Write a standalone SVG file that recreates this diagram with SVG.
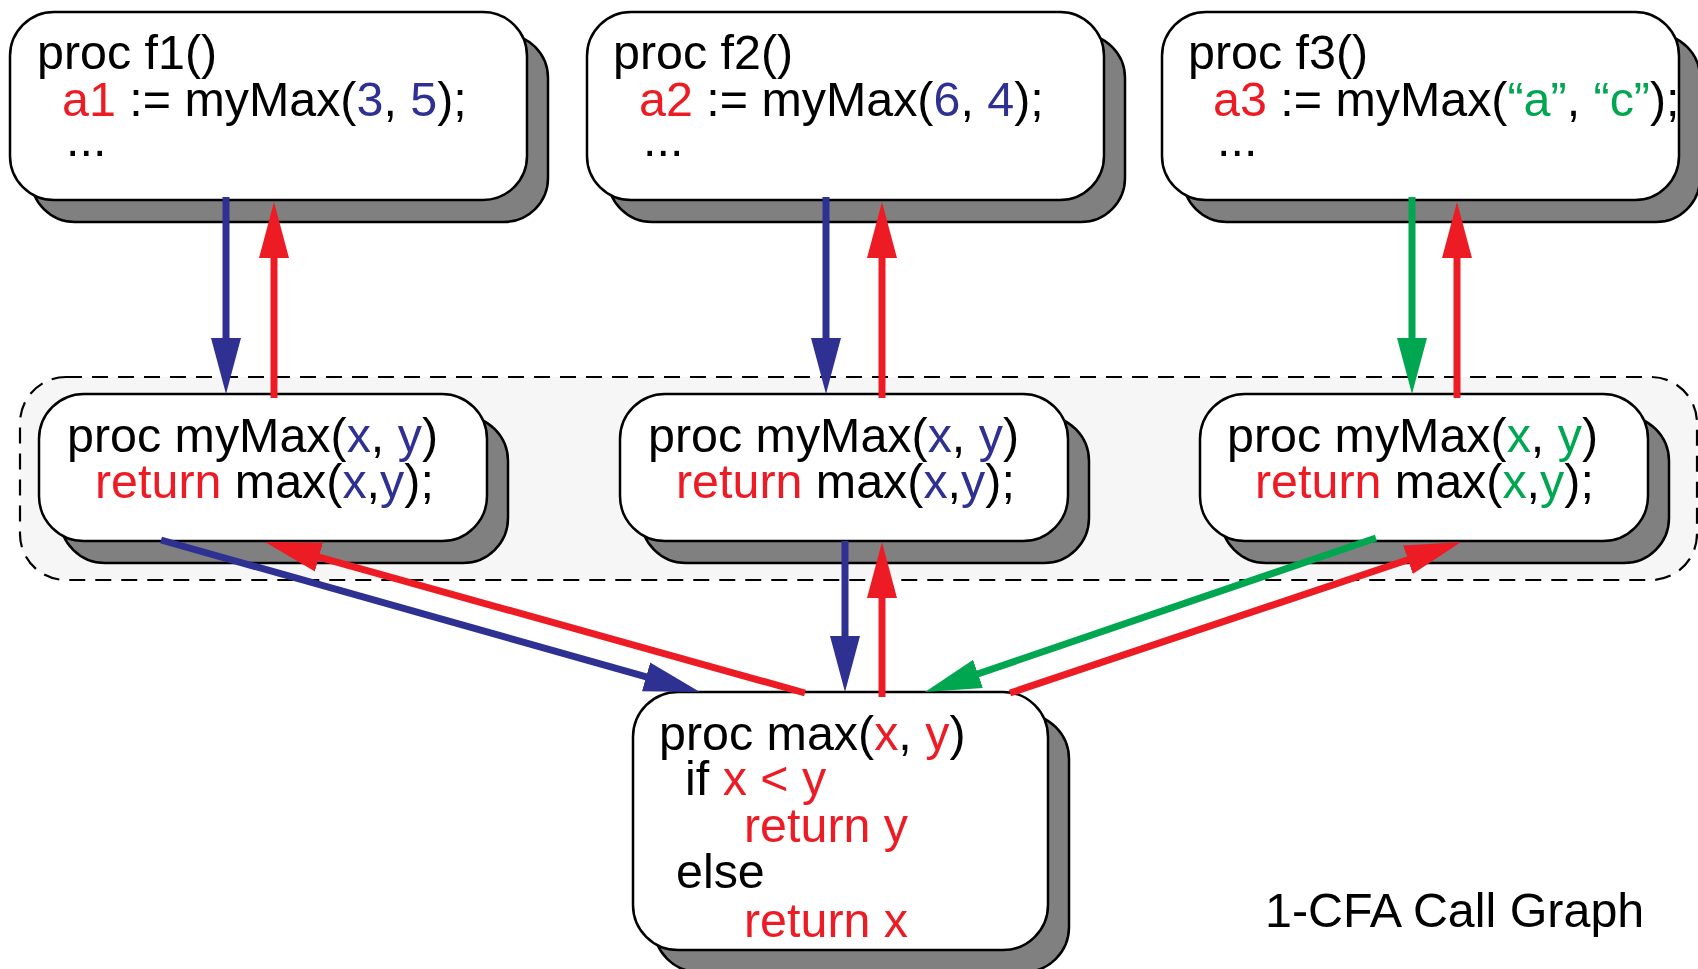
<svg xmlns="http://www.w3.org/2000/svg" width="1698" height="969" viewBox="0 0 1698 969">
  <style>
    text { font-family: "Liberation Sans", Arial, Helvetica, sans-serif; font-size: 48.4px; fill: #000; }
    .r { fill: #ED1C24; }
    .b { fill: #2E3192; }
    .g { fill: #00A650; }
    .shadow { fill: #808080; stroke: #000; stroke-width: 2.5; }
    .card { fill: #fff; stroke: #000; stroke-width: 2.5; }
    .group { fill: #f6f6f6; stroke: #000; stroke-width: 2.2; stroke-dasharray: 16 10; }
    .edge { fill: none; stroke-width: 7; }
    .eb { stroke: #2E3192; }
    .er { stroke: #ED1C24; }
    .eg { stroke: #00A650; }
  </style>
  <defs>
    <marker id="ah-blue" markerUnits="userSpaceOnUse" markerWidth="56" markerHeight="32" viewBox="0 0 56 32" refX="26" refY="16" orient="auto">
      <path d="M0,1 L56,16 L0,31 Z" fill="#2E3192"/>
    </marker>
    <marker id="ah-red" markerUnits="userSpaceOnUse" markerWidth="56" markerHeight="32" viewBox="0 0 56 32" refX="26" refY="16" orient="auto">
      <path d="M0,1 L56,16 L0,31 Z" fill="#ED1C24"/>
    </marker>
    <marker id="ah-green" markerUnits="userSpaceOnUse" markerWidth="56" markerHeight="32" viewBox="0 0 56 32" refX="26" refY="16" orient="auto">
      <path d="M0,1 L56,16 L0,31 Z" fill="#00A650"/>
    </marker>
  </defs>

  <rect width="1698" height="969" fill="#fff"/>

  <!-- dashed frame around the three myMax instances -->
  <rect id="mymax-group" class="group" x="20" y="377" width="1677" height="203" rx="46" ry="46"/>

  <!-- callers -->
  <g id="f1">
    <rect class="shadow" x="31" y="34" width="517" height="188" rx="44" ry="44"/>
    <rect class="card" x="10" y="12" width="517" height="188" rx="44" ry="44"/>
    <text x="37" y="69">proc f1()</text>
    <text x="62" y="116"><tspan class="r">a1</tspan> := myMax(<tspan class="b">3</tspan>, <tspan class="b">5</tspan>);</text>
    <text x="66" y="156">...</text>
  </g>

  <g id="f2">
    <rect class="shadow" x="608" y="34" width="517" height="188" rx="44" ry="44"/>
    <rect class="card" x="587" y="12" width="517" height="188" rx="44" ry="44"/>
    <text x="613" y="69">proc f2()</text>
    <text x="639" y="116"><tspan class="r">a2</tspan> := myMax(<tspan class="b">6</tspan>, <tspan class="b">4</tspan>);</text>
    <text x="643" y="156">...</text>
  </g>

  <g id="f3">
    <rect class="shadow" x="1183" y="34" width="517" height="188" rx="44" ry="44"/>
    <rect class="card" x="1162" y="12" width="517" height="188" rx="44" ry="44"/>
    <text x="1188" y="69">proc f3()</text>
    <text x="1213" y="116"><tspan class="r">a3</tspan> := myMax(<tspan class="g">“a”</tspan>, <tspan class="g">“c”</tspan>);</text>
    <text x="1217" y="156">...</text>
  </g>

  <!-- per-call-site copies of myMax -->
  <g id="mymax1">
    <rect class="shadow" x="60" y="416" width="448" height="147" rx="45" ry="45"/>
    <rect class="card" x="39" y="394" width="448" height="147" rx="45" ry="45"/>
    <text x="67" y="452">proc myMax(<tspan class="b">x</tspan>, <tspan class="b">y</tspan>)</text>
    <text x="95" y="498"><tspan class="r">return</tspan> max(<tspan class="b">x</tspan>,<tspan class="b">y</tspan>);</text>
  </g>

  <g id="mymax2">
    <rect class="shadow" x="641" y="416" width="448" height="147" rx="45" ry="45"/>
    <rect class="card" x="620" y="394" width="448" height="147" rx="45" ry="45"/>
    <text x="648" y="452">proc myMax(<tspan class="b">x</tspan>, <tspan class="b">y</tspan>)</text>
    <text x="676" y="498"><tspan class="r">return</tspan> max(<tspan class="b">x</tspan>,<tspan class="b">y</tspan>);</text>
  </g>

  <g id="mymax3">
    <rect class="shadow" x="1221" y="416" width="448" height="147" rx="45" ry="45"/>
    <rect class="card" x="1200" y="394" width="448" height="147" rx="45" ry="45"/>
    <text x="1227" y="452">proc myMax(<tspan class="g">x</tspan>, <tspan class="g">y</tspan>)</text>
    <text x="1255" y="498"><tspan class="r">return</tspan> max(<tspan class="g">x</tspan>,<tspan class="g">y</tspan>);</text>
  </g>

  <!-- shared callee -->
  <g id="max">
    <rect class="shadow" x="654" y="714" width="415" height="258" rx="45" ry="45"/>
    <rect class="card" x="633" y="692" width="415" height="258" rx="45" ry="45"/>
    <text x="659" y="750">proc max(<tspan class="r">x</tspan>, <tspan class="r">y</tspan>)</text>
    <text x="685" y="795">if <tspan class="r">x &lt; y</tspan></text>
    <text x="744" y="842" class="r">return y</text>
    <text x="676" y="888">else</text>
    <text x="744" y="937" class="r">return x</text>
  </g>

  <text id="caption" x="1265" y="927">1-CFA Call Graph</text>

  <!-- call and return edges -->
  <g id="edges">
    <line class="edge eb" x1="226" y1="197" x2="226" y2="364" marker-end="url(#ah-blue)"/>
    <line class="edge er" x1="274" y1="398" x2="274" y2="232" marker-end="url(#ah-red)"/>
    <line class="edge eb" x1="826" y1="197" x2="826" y2="364" marker-end="url(#ah-blue)"/>
    <line class="edge er" x1="882" y1="398" x2="882" y2="232" marker-end="url(#ah-red)"/>
    <line class="edge eg" x1="1412" y1="197" x2="1412" y2="364" marker-end="url(#ah-green)"/>
    <line class="edge er" x1="1457" y1="398" x2="1457" y2="232" marker-end="url(#ah-red)"/>

    <line class="edge eb" x1="161" y1="540" x2="671.1" y2="683.9" marker-end="url(#ah-blue)"/>
    <line class="edge er" x1="805" y1="693" x2="293.9" y2="550.1" marker-end="url(#ah-red)"/>
    <line class="edge eb" x1="845" y1="541" x2="845" y2="662" marker-end="url(#ah-blue)"/>
    <line class="edge er" x1="882" y1="697" x2="882" y2="572" marker-end="url(#ah-red)"/>
    <line class="edge eg" x1="1376" y1="538" x2="953.4" y2="682.3" marker-end="url(#ah-green)"/>
    <line class="edge er" x1="1010" y1="693" x2="1432.6" y2="551.5" marker-end="url(#ah-red)"/>
  </g>
</svg>
